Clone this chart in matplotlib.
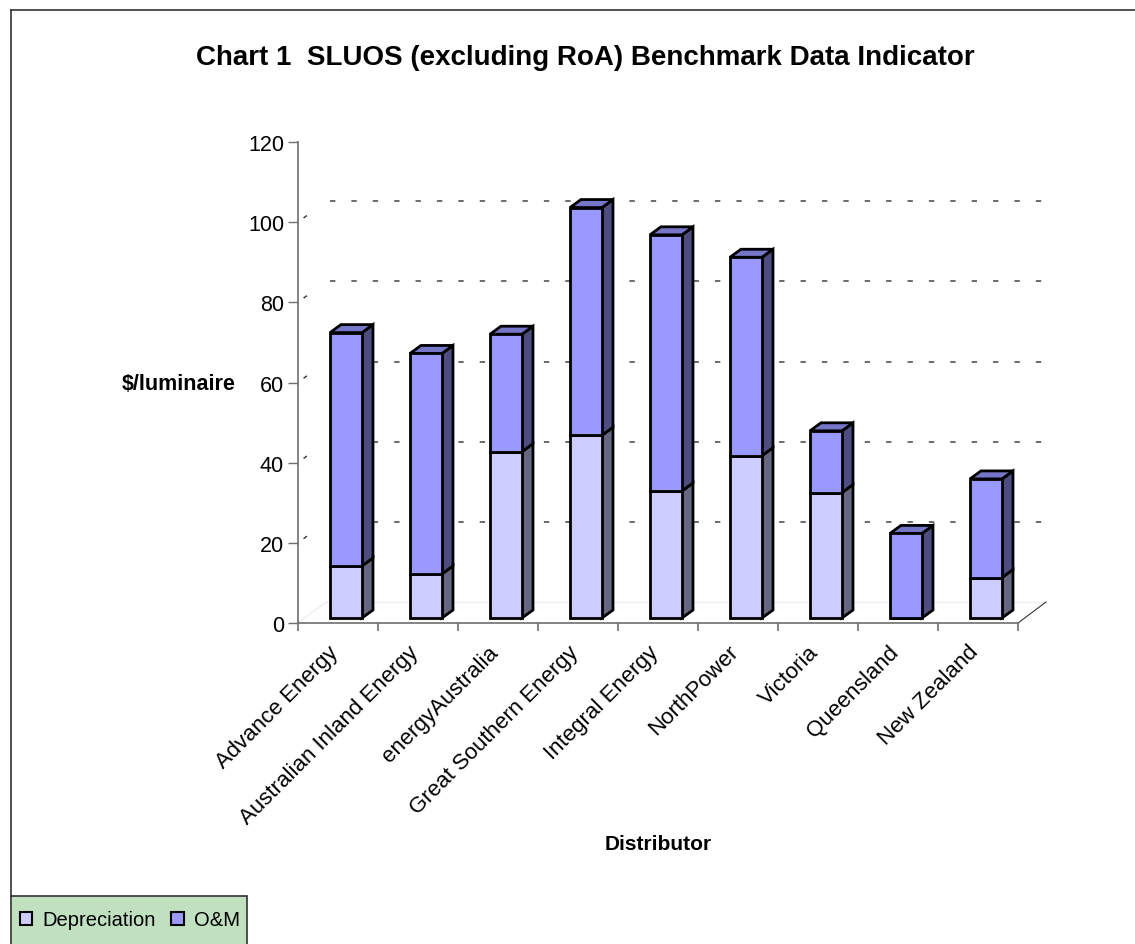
import numpy as np
import matplotlib.pyplot as plt
import matplotlib.transforms as mtransforms
from matplotlib.patches import Polygon, Patch, Rectangle
from matplotlib.lines import Line2D

plt.rcParams['font.family'] = ['Liberation Sans', 'DejaVu Sans']

# data
distributors = ["Advance Energy", "Australian Inland Energy", "energyAustralia",
                "Great Southern Energy", "Integral Energy", "NorthPower",
                "Victoria", "Queensland", "New Zealand"]
depreciation = [13.0, 11.0, 41.5, 45.6, 31.7, 40.5, 31.3, 0.0, 10.1]
om = [58.2, 55.0, 29.3, 56.8, 63.9, 49.5, 15.4, 21.1, 24.6]
yticks = [0, 20, 40, 60, 80, 100, 120]
grid_levels = [20, 40, 60, 80, 100]

W, H = 1135, 945
fig = plt.figure(figsize=(W / 100, H / 100), dpi=100)
ax = fig.add_axes([298 / W, 1 - 624 / H, (1018 - 298) / W, (624 - 143) / H])
ax.set_xlim(-0.5, 8.5)
ax.set_ylim(0, 120)

# pseudo-3d geometry (in data units)
px_x = 80.0
px_y = 481.0 / 120
wall_dx, wall_dy = 28 / px_x, 21 / px_y   # depth of back wall
side_dx, side_dy = 11 / px_x, 8 / px_y    # depth of a bar
base = 5 / px_y
off = 0.1
width = 0.4
elw = 2.0

dep_front, dep_side = "#CCCCFF", "#666680"
om_front, om_side, om_top = "#9999FF", "#4D4D80", "#7676C8"

# back wall and left wall grid lines
for v in grid_levels:
    ax.plot([-0.5 + wall_dx * 1.15, 8.5 + wall_dx], [v + wall_dy, v + wall_dy],
            color="#444444", lw=1.1, dashes=(3.5, 10.5), clip_on=False, zorder=1)
    ax.plot([-0.5, -0.5 + wall_dx], [v, v + wall_dy], color="#333333", lw=1,
            dashes=(0.01, 5, 3, 20), clip_on=False, zorder=1)
ax.plot([-0.5 + wall_dx, 8.5 + wall_dx], [wall_dy, wall_dy], color="#EEEEEE", lw=1,
        clip_on=False, zorder=1)
ax.plot([-0.5, -0.5 + wall_dx], [0, wall_dy], color="#EEEEEE", lw=1, clip_on=False, zorder=1)
ax.plot([8.5, 8.5 + wall_dx], [0, wall_dy], color="#333333", lw=0.8, clip_on=False, zorder=1)

x = np.arange(len(distributors)) + off
dep = np.array(depreciation)
omv = np.array(om)

ax.bar(x, dep, width=width, bottom=base, color=dep_front, edgecolor="black", lw=elw, zorder=3)
ax.bar(x, omv, width=width, bottom=base + dep, color=om_front, edgecolor="black", lw=elw, zorder=3)

for xi, d, o in zip(x, dep, omv):
    x1 = xi + width / 2
    x0 = xi - width / 2
    if d > 0:
        ax.add_patch(Polygon([(x1, base), (x1 + side_dx, base + side_dy),
                              (x1 + side_dx, base + d + side_dy), (x1, base + d)],
                             closed=True, fc=dep_side, ec="black", lw=elw, zorder=2.5))
    b = base + d
    ax.add_patch(Polygon([(x1, b), (x1 + side_dx, b + side_dy),
                          (x1 + side_dx, b + o + side_dy), (x1, b + o)],
                         closed=True, fc=om_side, ec="black", lw=elw, zorder=2.5))
    t = b + o
    ax.add_patch(Polygon([(x0, t), (x0 + side_dx, t + side_dy),
                          (x1 + side_dx, t + side_dy), (x1, t)],
                         closed=True, fc=om_top, ec="black", lw=elw, zorder=2.5))

for s in ["top", "right"]:
    ax.spines[s].set_visible(False)
for s in ["left", "bottom"]:
    ax.spines[s].set_color("#6E6E6E")
    ax.spines[s].set_linewidth(1.2)

ax.set_yticks(yticks)
ax.tick_params(axis="y", length=7, width=1, color="#6E6E6E", labelsize=15.5, pad=3)
ax.set_xticks(np.arange(len(distributors)))
ax.set_xticklabels(distributors, rotation=45, ha="right", va="top", rotation_mode="anchor",
                   fontsize=16)
ax.tick_params(axis="x", which="major", length=0, pad=13)
shift = mtransforms.ScaledTranslation(-10 / 100, 0, fig.dpi_scale_trans)
for lab in ax.get_xticklabels():
    lab.set_transform(lab.get_transform() + shift)
ax.set_xticks(np.arange(-0.5, 9.0, 1.0), minor=True)
ax.tick_params(axis="x", which="minor", length=6, width=1.2, color="#6E6E6E")

fig.text(179 / W, 1 - 384 / H, "$/luminaire", fontsize=15.5, fontweight="bold",
         ha="center", va="center")
fig.text(658 / W, 1 - 845 / H, "Distributor", fontsize=15, fontweight="bold",
         ha="center", va="center")
fig.text(585 / W, 1 - 58 / H, "Chart 1  SLUOS (excluding RoA) Benchmark Data Indicator",
         fontsize=20, fontweight="bold", ha="center", va="center")

# chart area border (left and top)
fig.add_artist(Line2D([11 / W, 11 / W], [1 - 897 / H, 1 - 11 / H], color="#333333", lw=1.2))
fig.add_artist(Line2D([11 / W, 1], [1 - 11 / H, 1 - 11 / H], color="#333333", lw=1.2))

# legend box
fig.add_artist(Rectangle((11 / W, -0.01), (247 - 11) / W, 0.01 + (945 - 897) / H,
                         transform=fig.transFigure, fc="#C0E0C0", ec="#333333", lw=1.2))
handles = [Patch(fc=dep_front, ec="black", lw=1.5, label="Depreciation"),
           Patch(fc=om_front, ec="black", lw=1.5, label="O&M")]
leg = fig.legend(handles=handles, loc="center left", bbox_to_anchor=(20 / W, 1 - 921 / H),
                 ncol=2, fontsize=14.5, frameon=False, handlelength=0.62,
                 handleheight=0.62, handletextpad=0.5, columnspacing=0.75,
                 borderpad=0, borderaxespad=0)

fig.savefig("out.png", dpi=100)
